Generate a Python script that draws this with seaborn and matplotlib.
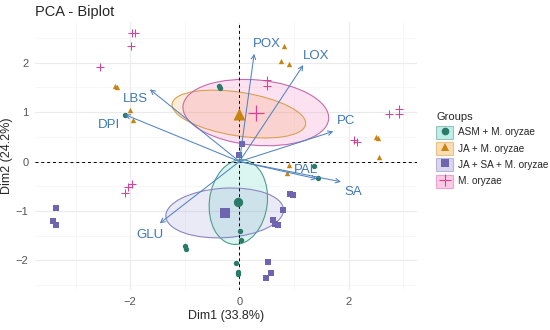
import numpy as np
import pandas as pd
import seaborn as sns
import matplotlib.pyplot as plt
from matplotlib.patches import Ellipse, Patch
from matplotlib.lines import Line2D
from matplotlib.legend_handler import HandlerTuple

# individuals (Dim1 / Dim2) per group
asm_x = [-2.1, -0.38, -0.36, 1.37, 1.43, -0.02, 0.01, 0.03, -0.07, -0.03, -0.03, -1.0, -0.97]
asm_y = [0.95, 1.53, 1.49, -0.09, -0.34, -0.78, -1.41, -1.58, -2.06, -2.23, -2.28, -1.7, -1.77]
ja_x = [0.81, 0.76, 0.9, -2.28, -2.25, -2.0, -1.95, 2.5, 2.54, 2.56, 0.9, 0.88]
ja_y = [2.33, 2.03, 1.97, 1.53, 1.51, 1.05, 0.85, 0.5, 0.47, 0.09, -0.07, -0.24]
jasa_x = [-3.36, -3.42, -3.36, 0.93, 0.99, 0.79, 0.61, 0.66, 0.7, 0.52, 0.57, 0.49, 0.05, 0.0]
jasa_y = [-0.93, -1.2, -1.29, -0.65, -0.67, -0.98, -1.19, -1.27, -1.29, -2.04, -2.25, -2.35, 0.36, 0.13]
mo_x = [-1.96, -1.92, -1.98, -2.55, 0.51, 0.51, 2.74, 2.92, 2.93, 2.1, 2.15, -2.1, -2.04, -1.97]
mo_y = [2.59, 2.59, 2.33, 1.92, 1.64, 1.52, 0.96, 0.96, 1.07, 0.43, 0.40, -0.63, -0.51, -0.46]

groups = ['ASM + M. oryzae', 'JA + M. oryzae', 'JA + SA + M. oryzae', 'M. oryzae']

# group means and confidence ellipses
mean_x = [-0.02, -0.01, -0.27, 0.30]
mean_y = [-0.82, 0.96, -1.04, 0.99]
ell_w = [1.06, 2.48, 2.16, 2.68]
ell_h = [1.72, 0.88, 1.0, 1.32]
ell_ang = [-6, -10, 4, -6]

# variables
var_names = ['POX', 'LOX', 'PC', 'SA', 'PAL', 'GLU', 'LBS', 'DPI']
var_x = [0.27, 1.17, 1.72, 1.86, 1.42, -1.46, -1.64, -2.1]
var_y = [2.18, 1.95, 0.61, -0.41, -0.35, -1.25, 1.46, 0.95]

df = pd.DataFrame({
    'Dim1': asm_x + ja_x + jasa_x + mo_x,
    'Dim2': asm_y + ja_y + jasa_y + mo_y,
    'Groups': [groups[0]] * len(asm_x) + [groups[1]] * len(ja_x)
              + [groups[2]] * len(jasa_x) + [groups[3]] * len(mo_x),
})

colors = ['#2A7A68', '#C8840E', '#6E64B0', '#D8409A']
fills = ['#5FD6C2', '#F5A845', '#A29CD6', '#F37FBC']
edges = ['#4E9C8A', '#D9A050', '#8A86C2', '#C46AAE']
markers = ['o', '^', 's', '+']
mean_sizes = [45, 75, 60, 140]

sns.set_theme(style='whitegrid')
plt.rcParams['font.family'] = ['Liberation Sans', 'DejaVu Sans']

fig = plt.figure(figsize=(5.5, 3.3), dpi=100)
ax = fig.add_axes([0.064, 0.121, 0.694, 0.812])

# ellipses
for i, g in enumerate(groups):
    e = Ellipse((mean_x[i], mean_y[i]), ell_w[i], ell_h[i], angle=ell_ang[i],
                facecolor=fills[i], alpha=0.22, edgecolor='none', zorder=1)
    ax.add_patch(e)
    e2 = Ellipse((mean_x[i], mean_y[i]), ell_w[i], ell_h[i], angle=ell_ang[i],
                 facecolor='none', edgecolor=edges[i], lw=0.8, zorder=2)
    ax.add_patch(e2)

ax.axhline(0, color='black', lw=0.7, ls=(0, (3, 3)), zorder=2)
ax.axvline(0, color='black', lw=0.7, ls=(0, (3, 3)), zorder=2)

# individuals
for i, g in enumerate(groups):
    sub = df[df['Groups'] == g]
    if markers[i] == '+':
        sns.scatterplot(data=sub, x='Dim1', y='Dim2', marker='+', color=colors[i],
                        s=35, linewidth=0.75, ax=ax, legend=False, zorder=4)
    else:
        sns.scatterplot(data=sub, x='Dim1', y='Dim2', marker=markers[i], color=colors[i],
                        s=15, linewidth=0, ax=ax, legend=False, zorder=4)

# group means
means = pd.DataFrame({'Dim1': mean_x, 'Dim2': mean_y, 'Groups': groups})
for i, g in enumerate(groups):
    sub = means[means['Groups'] == g]
    if markers[i] == '+':
        sns.scatterplot(data=sub, x='Dim1', y='Dim2', marker='+', color=colors[i],
                        s=mean_sizes[i], linewidth=0.9, ax=ax, legend=False, zorder=5)
    else:
        sns.scatterplot(data=sub, x='Dim1', y='Dim2', marker=markers[i], color=colors[i],
                        s=mean_sizes[i], linewidth=0, ax=ax, legend=False, zorder=5)

# variable arrows
arrow_col = '#5283C2'
label_off = {'POX': (13, 10), 'LOX': (13, 9), 'PC': (13, 10), 'SA': (12, -10),
             'PAL': (-11, 9), 'GLU': (-10, -12), 'LBS': (-14, -10), 'DPI': (-16, -10)}
for name, vx, vy in zip(var_names, var_x, var_y):
    ax.annotate('', xy=(vx, vy), xytext=(0, 0),
                arrowprops=dict(arrowstyle='->', color=arrow_col, lw=0.75,
                                shrinkA=0, shrinkB=0, mutation_scale=8),
                zorder=6)
    ax.annotate(name, xy=(vx, vy), xytext=label_off[name], textcoords='offset pixels',
                ha='center', va='center', fontsize=9.5, color='#3F78B5', zorder=7)

ax.set_xlim(-3.74, 3.25)
ax.set_ylim(-2.6, 2.82)
ax.set_xticks([-2, 0, 2])
ax.set_yticks([-2, -1, 0, 1, 2])
ax.set_xticks([-3, -1, 1, 3], minor=True)
ax.set_yticks([-2.5, -1.5, -0.5, 0.5, 1.5, 2.5], minor=True)
ax.grid(which='major', color='#EBEBEB', lw=0.8)
ax.grid(which='minor', color='#F4F4F4', lw=0.5)
for s in ax.spines.values():
    s.set_visible(False)
ax.tick_params(which='major', length=3, width=0.6, color='#9A9A9A',
               labelsize=8, labelcolor='#555555', pad=2)
ax.tick_params(which='minor', length=0)
ax.set_xlabel('Dim1 (33.8%)', fontsize=9, labelpad=2)
ax.set_ylabel('Dim2 (24.2%)', fontsize=9, labelpad=2)

fig.text(0.064, 0.963, 'PCA - Biplot', fontsize=10.5, ha='left', va='center')

handles = [(Patch(facecolor=fills[i], alpha=0.4, edgecolor=colors[i], lw=0.8),
            Line2D([], [], marker=markers[i], color=colors[i], ls='none',
                   markersize=5.5 if markers[i] != '+' else 9,
                   markeredgewidth=0 if markers[i] != '+' else 0.8))
           for i in range(len(groups))]
leg = fig.legend(handles, groups, handler_map={tuple: HandlerTuple(ndivide=1)},
                 title='Groups', loc='upper left', bbox_to_anchor=(0.784, 0.675),
                 frameon=False, fontsize=7.2, title_fontsize=8,
                 handlelength=1.7, handleheight=1.6, handletextpad=0.5,
                 labelspacing=0.35, borderpad=0)
leg._legend_box.align = 'left'

fig.savefig('out.png', dpi=100)
